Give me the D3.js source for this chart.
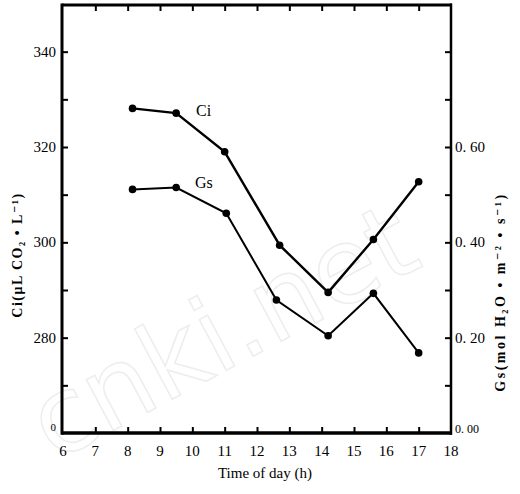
<!DOCTYPE html>
<html>
<head>
<meta charset="utf-8">
<script src="https://cdn.jsdelivr.net/npm/d3@7"></script>
<style>
  html, body { margin: 0; padding: 0; background: #fff; }
  svg { display: block; }
  text { font-family: "Liberation Serif", "DejaVu Serif", serif; fill: #000; }
</style>
</head>
<body>
<svg id="chart" width="520" height="494"></svg>
<script>
// ---- data ----
const ciTimes = [8.15, 9.5, 11.0, 12.7, 14.2, 15.6, 17.0];
const ciValues = [328.1, 327.1, 319.0, 299.4, 289.5, 300.6, 312.7];
const gsTimes = [8.15, 9.5, 11.05, 12.6, 14.2, 15.6, 17.0];
const gsValues = [0.511, 0.515, 0.461, 0.279, 0.204, 0.293, 0.168];

const xTicks = [6, 7, 8, 9, 10, 11, 12, 13, 14, 15, 16, 17, 18];
const leftTicks = [270, 280, 290, 300, 310, 320, 330, 340];
const leftLabels = [260, 280, 300, 320, 340];
const rightTicks = [0.1, 0.2, 0.3, 0.4, 0.5, 0.6, 0.7, 0.8];
const rightLabels = [0.0, 0.2, 0.4, 0.6];

const xTitle = "Time of day (h)";
const leftTitle = "Ci(μL CO₂ • L⁻¹)";
const rightTitle = "Gs(mol H₂O • m⁻² • s⁻¹)";
const watermark = "cnki.net";

// ---- layout ----
const L = 62, R = 451, T = 5, B = 433;
const svg = d3.select("#chart");

const x = d3.scaleLinear().domain([6, 18]).range([63, 451]);
const yL = d3.scaleLinear().domain([260, 350]).range([B, 4]);
const yR = d3.scaleLinear().domain([0, 0.9]).range([B, 4]);

// faint watermark
svg.append("text")
  .attr("transform", "translate(54,462) rotate(-28)")
  .attr("font-size", 105)
  .style("font-family", "'DejaVu Sans', sans-serif")
  .style("fill", "none")
  .style("stroke", "#ededed")
  .style("stroke-width", 1.5)
  .text(watermark);

// inward ticks
const tk = 6;
svg.append("g").attr("transform", `translate(0,${B})`)
  .call(d3.axisBottom(x).tickValues(xTicks.slice(1, -1)).tickSize(-tk).tickFormat(""))
  .call(g => g.select(".domain").remove())
  .call(g => g.selectAll("line").attr("stroke", "#000").attr("stroke-width", 2));
svg.append("g").attr("transform", `translate(0,${T})`)
  .call(d3.axisTop(x).tickValues(xTicks.slice(1, -1)).tickSize(-tk).tickFormat(""))
  .call(g => g.select(".domain").remove())
  .call(g => g.selectAll("line").attr("stroke", "#000").attr("stroke-width", 2));
svg.append("g").attr("transform", `translate(${L},0)`)
  .call(d3.axisLeft(yL).tickValues(leftTicks).tickSize(-tk).tickFormat(""))
  .call(g => g.select(".domain").remove())
  .call(g => g.selectAll("line").attr("stroke", "#000").attr("stroke-width", 2));
svg.append("g").attr("transform", `translate(${R},0)`)
  .call(d3.axisRight(yR).tickValues(rightTicks).tickSize(-tk).tickFormat(""))
  .call(g => g.select(".domain").remove())
  .call(g => g.selectAll("line").attr("stroke", "#000").attr("stroke-width", 2));

// frame
svg.append("line").attr("x1", L).attr("x2", R + 1).attr("y1", T).attr("y2", T).attr("stroke", "#000").attr("stroke-width", 3);
svg.append("line").attr("x1", L).attr("x2", R + 1).attr("y1", B).attr("y2", B).attr("stroke", "#000").attr("stroke-width", 3.5);
svg.append("line").attr("x1", L).attr("x2", L).attr("y1", T - 1.5).attr("y2", B + 1.7).attr("stroke", "#000").attr("stroke-width", 3);
svg.append("line").attr("x1", R).attr("x2", R).attr("y1", T - 1.5).attr("y2", B + 1.7).attr("stroke", "#000").attr("stroke-width", 2.5);

// x tick labels
svg.append("g").selectAll("text").data(xTicks).join("text")
  .attr("x", d => x(d)).attr("y", 456)
  .attr("text-anchor", "middle").attr("font-size", 15)
  .text(d => d);

// left tick labels
svg.append("g").selectAll("text").data(leftLabels).join("text")
  .attr("x", 56).attr("y", d => yL(d) + (d === 260 ? -2 : 5))
  .attr("text-anchor", "end").attr("font-size", d => d === 260 ? 11 : 15)
  .text(d => d === 260 ? "0" : d);

// right tick labels
svg.append("g").selectAll("text").data(rightLabels).join("text")
  .attr("x", 455).attr("y", d => yR(d) + (d === 0 ? 0 : 5))
  .attr("text-anchor", "start").attr("font-size", d => d === 0 ? 12 : 15)
  .text(d => d3.format(".2f")(d).replace(".", ". "));

// titles
svg.append("text").attr("x", 265).attr("y", 478)
  .attr("text-anchor", "middle").attr("font-size", 15).text(xTitle);
svg.append("text").attr("transform", "translate(22,255) rotate(-90)")
  .attr("text-anchor", "middle").attr("font-size", 14).attr("font-weight", "bold")
  .attr("letter-spacing", 1.5).text(leftTitle);
svg.append("text").attr("transform", "translate(505,292) rotate(-90)")
  .attr("text-anchor", "middle").attr("font-size", 14).attr("font-weight", "bold")
  .attr("letter-spacing", 2.5).text(rightTitle);

// series
const ciData = ciTimes.map((t, i) => [t, ciValues[i]]);
const gsData = gsTimes.map((t, i) => [t, gsValues[i]]);

svg.append("path").datum(ciData)
  .attr("fill", "none").attr("stroke", "#000").attr("stroke-width", 2.4)
  .attr("d", d3.line().x(d => x(d[0])).y(d => yL(d[1])));
svg.append("path").datum(gsData)
  .attr("fill", "none").attr("stroke", "#000").attr("stroke-width", 2)
  .attr("d", d3.line().x(d => x(d[0])).y(d => yR(d[1])));

svg.append("g").selectAll("circle").data(ciData).join("circle")
  .attr("cx", d => x(d[0])).attr("cy", d => yL(d[1])).attr("r", 3.8).attr("fill", "#000");
svg.append("g").selectAll("circle").data(gsData).join("circle")
  .attr("cx", d => x(d[0])).attr("cy", d => yR(d[1])).attr("r", 3.8).attr("fill", "#000");

// series labels
svg.append("text").attr("x", 196).attr("y", 116).attr("font-size", 16).text("Ci");
svg.append("text").attr("x", 195).attr("y", 188).attr("font-size", 16).text("Gs");
</script>
</body>
</html>
